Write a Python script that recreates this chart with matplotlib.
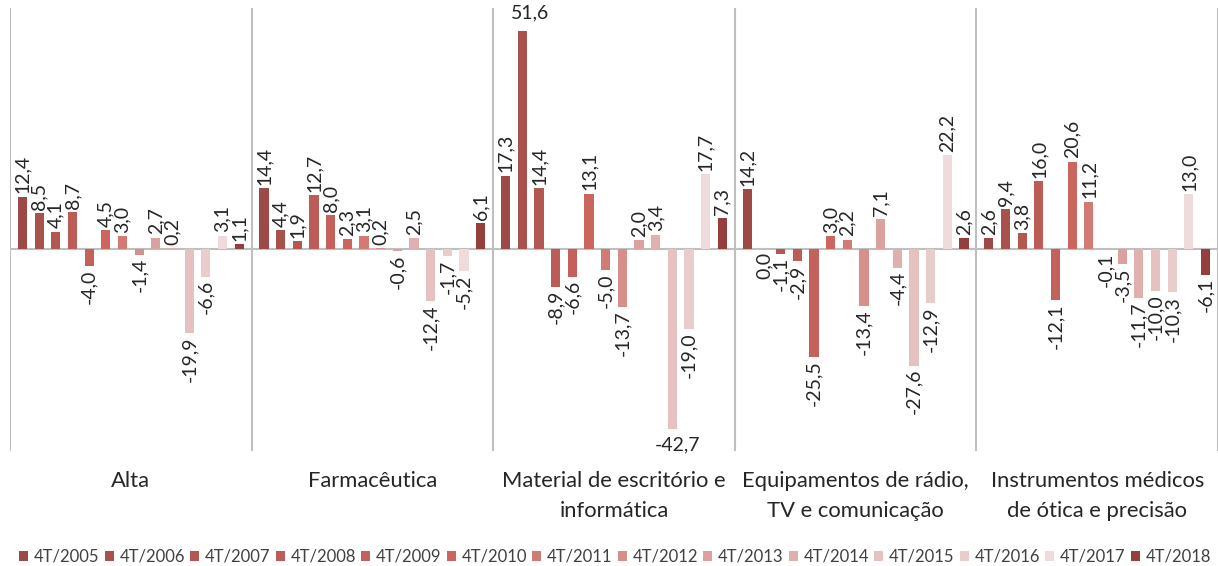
import numpy as np
import matplotlib
matplotlib.use("Agg")
import matplotlib.pyplot as plt
from matplotlib.patches import Patch
from matplotlib.transforms import blended_transform_factory

plt.rcParams['font.family'] = ['Lato', 'DejaVu Sans']

# sectors on the x axis
categories = ["Alta", "Farmacêutica", "Material de escritório e\ninformática",
              "Equipamentos de rádio,\nTV e comunicação",
              "Instrumentos médicos\nde ótica e precisão"]

periods = ["4T/2005", "4T/2006", "4T/2007", "4T/2008", "4T/2009", "4T/2010",
           "4T/2011", "4T/2012", "4T/2013", "4T/2014", "4T/2015", "4T/2016",
           "4T/2017", "4T/2018"]

# growth (%) per sector, one value per period
alta = [12.4, 8.5, 4.1, 8.7, -4.0, 4.5, 3.0, -1.4, 2.7, 0.2, -19.9, -6.6, 3.1, 1.1]
farmaceutica = [14.4, 4.4, 1.9, 12.7, 8.0, 2.3, 3.1, 0.2, -0.6, 2.5, -12.4, -1.7, -5.2, 6.1]
escritorio = [17.3, 51.6, 14.4, -8.9, -6.6, 13.1, -5.0, -13.7, 2.0, 3.4, -42.7, -19.0, 17.7, 7.3]
radio_tv = [14.2, 0.0, -1.1, -2.9, -25.5, 3.0, 2.2, -13.4, 7.1, -4.4, -27.6, -12.9, 22.2, 2.6]
instrumentos = [2.6, 9.4, 3.8, 16.0, -12.1, 20.6, 11.2, -0.1, -3.5, -11.7, -10.0, -10.3, 13.0, -6.1]

colors = ["#9c4a46", "#a8524d", "#b25751", "#bb5c56", "#c3615a", "#cb665f",
          "#d27b75", "#d68f8b", "#dba19e", "#e0b0ae", "#e5c1c0", "#e9cdcc",
          "#efdbdb", "#943f3c"]

data = np.array([alta, farmaceutica, escritorio, radio_tv, instrumentos])

W, H = 1218, 566
fig = plt.figure(figsize=(W / 100, H / 100), dpi=100)
ax = fig.add_axes([10 / W, 1 - 451 / H, (W - 10) / W, 443 / H])

YMIN, YMAX = -47.8, 57.0
n = len(periods)
slot = 0.069
width = 0.038
x = np.arange(len(categories))
lab_fs = 14
txt_col = "#262626"

for j in range(n):
    pos = x + (j - (n - 1) / 2) * slot
    vals = data[:, j]
    ax.bar(pos, vals, width, color=colors[j], label=periods[j], zorder=2)
    for xp, v in zip(pos, vals):
        txt = f"{v:.1f}".replace(".", ",")
        if v > 0:
            if v > 45:
                # no room above: label sits flat at the top
                ax.text(xp + 0.03, YMAX - 1.2, txt, ha="center", va="center",
                        fontsize=lab_fs, color=txt_col)
            else:
                ax.text(xp, v + 0.8, txt, rotation=90, ha="center", va="bottom",
                        fontsize=lab_fs, color=txt_col)
        else:
            if v < -35:
                ax.text(xp + 0.02, v - 3.6, txt, ha="center", va="center",
                        fontsize=lab_fs, color=txt_col)
            else:
                ax.text(xp, v - 0.8, txt, rotation=90, ha="center", va="top",
                        fontsize=lab_fs, color=txt_col)

ax.set_xlim(-0.5, 4.5)
ax.set_ylim(YMIN, YMAX)
ax.axhline(0, color="#bfbfbf", lw=1.5, zorder=1)
for b in np.arange(-0.5, 4.6, 1.0):
    ax.axvline(b, color="#bfbfbf", lw=1.5, zorder=1)
for s in ax.spines.values():
    s.set_visible(False)
ax.set_xticks([])
ax.set_yticks([])

# sector names under the plot area, one text per line
trans = blended_transform_factory(ax.transData, fig.transFigure)
for xi, name in zip(x, categories):
    for k, line in enumerate(name.split("\n")):
        ax.text(xi, 1 - (481 + 30 * k) / H, line, transform=trans,
                ha="center", va="center", fontsize=15.8, color=txt_col)

handles = [Patch(facecolor=c, edgecolor="none") for c in colors]
fig.legend(handles, periods, loc="center", bbox_to_anchor=(0.5 + 6 / W, 1 - 557 / H),
           ncol=n, frameon=False, fontsize=12, handlelength=0.55,
           handleheight=0.55, handletextpad=0.35, columnspacing=0.3,
           labelcolor="#404040", borderpad=0.0, borderaxespad=0.0)

fig.savefig("out.png", dpi=100)
